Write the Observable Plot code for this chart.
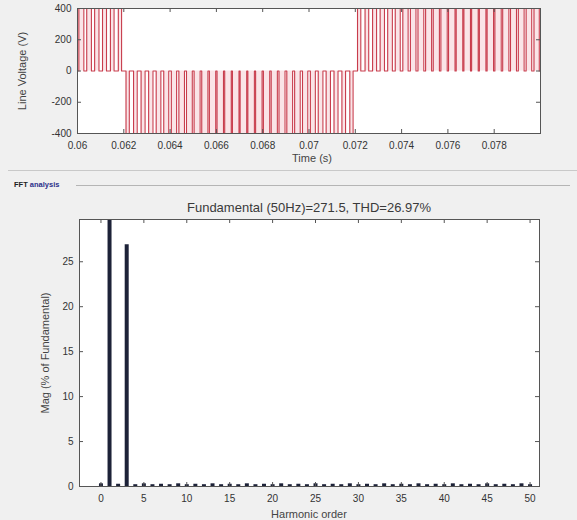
<!DOCTYPE html>
<html>
<head>
<meta charset="utf-8">
<script src="https://cdn.jsdelivr.net/npm/d3@7"></script>
<script src="https://cdn.jsdelivr.net/npm/@observablehq/plot@0.6"></script>
<style>
  body { margin: 0; background: #ffffff; font-family: "Liberation Sans", Arial, sans-serif; }
  #root { position: relative; width: 577px; height: 520px; overflow: hidden; background: #f0f0f0; }
  .abs { position: absolute; white-space: nowrap; }
  .axlbl { font-size: 11px; color: #444; }
  .rot { transform: translate(-50%, -50%) rotate(-90deg); }
  .ctr { transform: translate(-50%, -50%); }
  #topPlot, #botPlot { position: absolute; left: 0; }
  #topPlot { top: 0; }
  #botPlot { top: 190px; }
  #sep { position: absolute; left: 8px; top: 170px; width: 569px; height: 1px; background: #c9c9c9; }
  #gline { position: absolute; left: 76px; top: 185px; width: 494px; height: 1px; background: #b5b5b5; }
  #fft { left: 14px; top: 180px; font-size: 7.5px; font-weight: bold; color: #222; }
  #fft span { color: #2b2f8a; }
  #title { left: 309px; top: 207px; font-size: 13px; color: #3a3a3a; }
</style>
</head>
<body>
<div id="root">
  <div id="sep"></div>
  <div id="topPlot"></div>
  <div class="abs axlbl rot" style="left:22px; top:71px;">Line Voltage (V)</div>
  <div class="abs axlbl ctr" style="left:312px; top:158px;">Time (s)</div>
  <div id="gline"></div>
  <div id="fft" class="abs">FFT <span>analysis</span></div>
  <div id="title" class="abs ctr">Fundamental (50Hz)=271.5, THD=26.97%</div>
  <div id="botPlot"></div>
  <div class="abs axlbl rot" style="left:45px; top:353px;">Mag (% of Fundamental)</div>
  <div class="abs axlbl ctr" style="left:309px; top:514px;">Harmonic order</div>
</div>
<script>
// ---- Top panel data: PWM line voltage ----
const halfCycleStart = [0.060, 0.062, 0.072];
const halfCycleLevel = [400, -400, 400];
const pulseStart = [
  0.060059, 0.060399, 0.060740, 0.061081, 0.061422, 0.061763,
  0.062096, 0.062422, 0.062747, 0.063073, 0.063399, 0.063726, 0.064053, 0.064380,
  0.064708, 0.065037, 0.065367, 0.065697, 0.066028, 0.066359, 0.066692, 0.067025,
  0.067359, 0.067694, 0.068030, 0.068367, 0.068704, 0.069042, 0.069380, 0.069719,
  0.070059, 0.070399, 0.070740, 0.071081, 0.071422, 0.071763,
  0.072096, 0.072422, 0.072747, 0.073073, 0.073399, 0.073726, 0.074053, 0.074380,
  0.074708, 0.075037, 0.075367, 0.075697, 0.076028, 0.076359, 0.076692, 0.077025,
  0.077359, 0.077694, 0.078030, 0.078367, 0.078704, 0.079042, 0.079380, 0.079719
];
const pulseEnd = [
  0.060274, 0.060601, 0.060927, 0.061253, 0.061579, 0.061904,
  0.062237, 0.062579, 0.062919, 0.063260, 0.063601, 0.063941, 0.064281, 0.064620,
  0.064958, 0.065296, 0.065633, 0.065970, 0.066306, 0.066641, 0.066975, 0.067308,
  0.067641, 0.067972, 0.068303, 0.068633, 0.068963, 0.069292, 0.069620, 0.069947,
  0.070274, 0.070601, 0.070927, 0.071253, 0.071579, 0.071904,
  0.072237, 0.072579, 0.072919, 0.073260, 0.073601, 0.073941, 0.074281, 0.074620,
  0.074958, 0.075296, 0.075633, 0.075970, 0.076306, 0.076641, 0.076975, 0.077308,
  0.077641, 0.077972, 0.078303, 0.078633, 0.078963, 0.079292, 0.079620, 0.079947
];
const timeTicks = [0.06, 0.062, 0.064, 0.066, 0.068, 0.07, 0.072, 0.074, 0.076, 0.078];
const voltTicks = [-400, -200, 0, 200, 400];

// ---- Bottom panel data: FFT harmonics ----
const harmonicOrder = [0,1,2,3,4,5,6,7,8,9,10,11,12,13,14,15,16,17,18,19,20,21,22,23,24,25,
  26,27,28,29,30,31,32,33,34,35,36,37,38,39,40,41,42,43,44,45,46,47,48,49,50];
const harmonicMag = [0.3, 100, 0.25, 26.9, 0.2, 0.3, 0.2, 0.25, 0.2, 0.3, 0.2, 0.25, 0.2, 0.3,
  0.2, 0.25, 0.2, 0.3, 0.2, 0.25, 0.2, 0.3, 0.2, 0.25, 0.2, 0.3, 0.2, 0.25, 0.2, 0.3, 0.2,
  0.25, 0.2, 0.3, 0.2, 0.25, 0.2, 0.3, 0.2, 0.25, 0.2, 0.3, 0.2, 0.25, 0.2, 0.3, 0.2, 0.25,
  0.2, 0.3, 0.2];
const harmonicTicks = [0, 5, 10, 15, 20, 25, 30, 35, 40, 45, 50];
const magTicks = [0, 5, 10, 15, 20, 25];

// build step waveform rows from the pulse tables
const wave = [];
pulseStart.forEach((s, i) => {
  let L = halfCycleLevel[0];
  halfCycleStart.forEach((h, j) => { if (s >= h) L = halfCycleLevel[j]; });
  wave.push({t: s, v: 0}, {t: s, v: L}, {t: pulseEnd[i], v: L}, {t: pulseEnd[i], v: 0});
});
const bars = harmonicOrder.map((h, i) => ({h, m: harmonicMag[i]}));

const fmt = d => String(d);
const font = {background: "transparent", fontFamily: "'Liberation Sans', Arial, sans-serif", fontSize: "10px", color: "#333"};

// Top plot
const tW = 577, tH = 170, tL = 77, tR = 37, tT = 8, tB = 37;
const tPW = tW - tL - tR, tPH = tH - tT - tB;
const topChart = Plot.plot({
  width: tW, height: tH, marginLeft: tL, marginRight: tR, marginTop: tT, marginBottom: tB,
  style: font,
  x: {domain: [0.06, 0.08], label: null},
  y: {domain: [-400, 400], label: null},
  marks: [
    Plot.frame({fill: "white", stroke: "none"}),
    Plot.areaY(wave, {x: "t", y: "v", fill: "#e56a78", fillOpacity: 0.18, curve: "linear"}),
    Plot.line(wave, {x: "t", y: "v", stroke: "#c2283a", strokeWidth: 1.1, strokeOpacity: 0.9}),
    Plot.axisX({ticks: timeTicks, tickFormat: fmt, tickSize: 0, tickPadding: 8, label: null}),
    Plot.axisY({ticks: voltTicks, tickFormat: fmt, tickSize: 0, tickPadding: 6, label: null}),
    Plot.tickX(timeTicks, {x: d => d, insetTop: tPH - 4, stroke: "#555"}),
    Plot.tickX(timeTicks, {x: d => d, insetBottom: tPH - 4, stroke: "#555"}),
    Plot.tickY(voltTicks, {y: d => d, insetRight: tPW - 4, stroke: "#555"}),
    Plot.tickY(voltTicks, {y: d => d, insetLeft: tPW - 4, stroke: "#555"}),
    Plot.frame({stroke: "#555"})
  ]
});
document.getElementById("topPlot").appendChild(topChart);

// Bottom plot
const bW = 577, bH = 330, bL = 79, bR = 38, bT = 29, bB = 34;
const bPW = bW - bL - bR, bPH = bH - bT - bB;
const botChart = Plot.plot({
  width: bW, height: bH, marginLeft: bL, marginRight: bR, marginTop: bT, marginBottom: bB,
  style: font,
  x: {domain: [-2.5, 51.1], label: null},
  y: {domain: [0, 29.7], label: null},
  marks: [
    Plot.frame({fill: "white", stroke: "none"}),
    Plot.ruleX(bars, {x: "h", y1: 0, y2: "m", stroke: "#1d2238", strokeWidth: 4, clip: true}),
    Plot.axisX({ticks: harmonicTicks, tickFormat: fmt, tickSize: 0, tickPadding: 8, label: null}),
    Plot.axisY({ticks: magTicks, tickFormat: fmt, tickSize: 0, tickPadding: 6, label: null}),
    Plot.tickX(harmonicTicks, {x: d => d, insetTop: bPH - 4, stroke: "#555"}),
    Plot.tickX(harmonicTicks, {x: d => d, insetBottom: bPH - 4, stroke: "#555"}),
    Plot.tickY(magTicks, {y: d => d, insetRight: bPW - 4, stroke: "#555"}),
    Plot.tickY(magTicks, {y: d => d, insetLeft: bPW - 4, stroke: "#555"}),
    Plot.frame({stroke: "#555"})
  ]
});
document.getElementById("botPlot").appendChild(botChart);
</script>
</body>
</html>
